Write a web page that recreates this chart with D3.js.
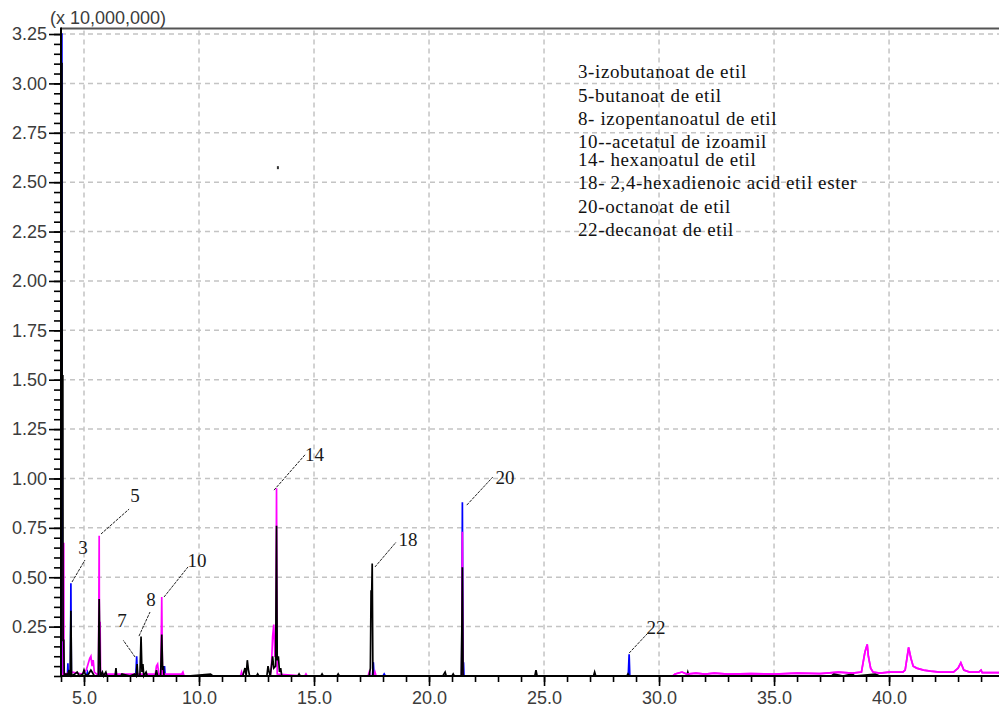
<!DOCTYPE html>
<html><head><meta charset="utf-8">
<script src="https://cdn.jsdelivr.net/npm/d3@7"></script>
<style>
html,body{margin:0;padding:0;background:#fff;}
svg{display:block;}
</style></head>
<body>
<svg id="chart" width="999" height="707"></svg>
<script>
// ---------- DATA ----------
const yMajorTicks = [0.25,0.50,0.75,1.00,1.25,1.50,1.75,2.00,2.25,2.50,2.75,3.00,3.25];
const xMajorTicks = [5,10,15,20,25,30,35,40];
const yScaleNote = "(x 10,000,000)";

// black trace (TIC) [time(min), intensity x1e7]
const blackTrace = [
 [4.00,3.10],[4.04,3.10],[4.05,1.52],[4.08,1.52],[4.09,0.18],[4.12,0.18],[4.14,0.01],
 [4.30,0.01],[4.35,0.03],[4.38,0.00],
 [4.40,0.00],[4.43,0.33],[4.44,0.23],[4.46,0.00],
 [4.60,0.01],[4.70,0.02],[4.80,0.00],[4.95,0.01],[5.00,0.03],[5.05,0.01],[5.15,0.00],[5.25,0.02],[5.30,0.03],[5.35,0.02],[5.45,0.00],
 [5.62,0.00],[5.66,0.39],[5.68,0.22],[5.71,0.00],
 [5.80,0.02],[5.85,0.00],[5.95,0.02],[6.00,0.00],[6.35,0.00],[6.39,0.04],[6.42,0.00],[6.60,0.00],[6.65,0.01],[7.00,0.00],[7.20,0.01],
 [7.27,0.00],[7.31,0.06],[7.34,0.00],
 [7.43,0.00],[7.48,0.20],[7.52,0.02],[7.56,0.06],[7.60,0.00],[7.70,0.02],[7.75,0.00],
 [8.10,0.00],[8.15,0.03],[8.20,0.00],
 [8.33,0.00],[8.38,0.21],[8.42,0.03],[8.45,0.05],[8.48,0.00],
 [9.50,0.00],[10.50,0.01],[10.60,0.00],
 [11.90,0.00],[12.00,0.04],[12.05,0.00],[12.10,0.08],[12.15,0.03],[12.20,0.00],[12.50,0.00],[12.55,0.01],[12.60,0.00],
 [12.95,0.00],[13.00,0.05],[13.05,0.02],[13.10,0.00],[13.20,0.10],[13.25,0.04],
 [13.33,0.05],[13.37,0.76],[13.40,0.08],[13.45,0.10],[13.50,0.02],[13.55,0.04],[13.60,0.00],
 [14.30,0.00],[14.35,0.01],[14.40,0.00],[15.30,0.00],[15.35,0.01],[15.40,0.00],[16.00,0.00],[16.05,0.01],[16.10,0.00],
 [17.40,0.00],[17.45,0.04],[17.48,0.43],[17.51,0.43],[17.53,0.57],[17.56,0.00],
 [20.60,0.00],[20.70,0.02],[20.75,0.00],[21.00,0.00],[21.05,0.01],[21.10,0.00],
 [21.40,0.00],[21.43,0.27],[21.45,0.55],[21.48,0.00],
 [24.60,0.00],[24.65,0.03],[24.70,0.00],[27.15,0.00],[27.20,0.02],[27.25,0.00],
 [28.60,0.00],[28.65,0.01],[28.70,0.00],[31.20,0.00],[31.25,0.02],[31.30,0.00],
 [37.50,0.00],[37.60,0.01],[38.00,0.00],[38.40,0.01],[38.50,0.00],[39.40,0.01],[39.60,0.00],
 [44.78,0.00]
];

// magenta trace
const magentaTrace = [
 [4.00,0.01],[4.09,0.01],[4.10,0.67],[4.12,0.67],[4.13,0.01],
 [4.50,0.02],[4.90,0.01],[5.10,0.03],[5.20,0.07],[5.25,0.09],[5.30,0.10],[5.35,0.05],[5.40,0.08],[5.45,0.02],[5.55,0.01],
 [5.63,0.01],[5.66,0.71],[5.67,0.27],[5.70,0.27],[5.72,0.01],
 [6.00,0.01],[7.20,0.01],
 [8.10,0.01],[8.15,0.05],[8.20,0.06],[8.25,0.01],
 [8.34,0.01],[8.38,0.40],[8.41,0.01],
 [9.25,0.01],[9.30,0.02],[9.35,0.00],[11.80,0.00],[11.85,0.02],[11.90,0.00],
 [13.10,0.00],[13.15,0.05],[13.20,0.20],[13.25,0.26],[13.30,0.10],
 [13.34,0.10],[13.37,0.95],[13.40,0.01],
 [14.60,0.00],[14.65,0.01],[14.70,0.00],[17.35,0.00],[17.40,0.02],[17.45,0.00],[17.60,0.00],[17.65,0.02],[17.70,0.00],
 [21.42,0.00],[21.45,0.73],[21.47,0.00],
 [30.60,0.00],[30.70,0.01],[31.00,0.02],[31.20,0.01],[31.60,0.015],[32.00,0.01],[32.40,0.015],[33.00,0.01],[34.00,0.012],
 [35.00,0.01],[36.00,0.015],[37.00,0.012],[37.80,0.02],[38.40,0.015],[38.80,0.02],
 [38.95,0.12],[39.05,0.16],[39.10,0.10],[39.20,0.04],[39.30,0.02],[39.60,0.015],[40.00,0.02],[40.60,0.02],[40.70,0.03],
 [40.85,0.145],[40.95,0.09],[41.05,0.05],[41.20,0.04],[41.50,0.03],[41.80,0.025],[42.20,0.02],[42.80,0.02],
 [43.00,0.04],[43.12,0.067],[43.25,0.03],[43.50,0.02],[43.90,0.02],[44.00,0.03],[44.05,0.017],[44.78,0.017]
];

// blue trace
const blueTrace = [
 [4.00,0.00],[4.02,3.25],[4.04,3.25],[4.05,0.00],
 [4.28,0.00],[4.30,0.065],[4.32,0.00],
 [4.41,0.00],[4.43,0.47],[4.45,0.00],
 [5.10,0.00],[5.15,0.02],[5.20,0.00],[5.65,0.00],[5.70,0.04],[5.72,0.00],
 [7.25,0.00],[7.29,0.10],[7.32,0.00],
 [8.47,0.00],[8.50,0.05],[8.53,0.00],
 [17.54,0.00],[17.58,0.07],[17.61,0.00],[18.00,0.00],[18.05,0.01],[18.10,0.00],
 [21.42,0.00],[21.45,0.88],[21.48,0.00],[21.50,0.07],[21.52,0.00],
 [28.66,0.00],[28.70,0.11],[28.73,0.00],
 [44.78,0.00]
];

// peak labels: label text, peak point (t,v), leader end (t,v), text centre (t,v)
const peakLabels = ["3","5","7","8","10","14","18","20","22"];
const peakPoints = [[4.48,0.476],[5.74,0.719],[7.22,0.096],[7.39,0.202],[8.48,0.40],[13.26,0.941],[17.65,0.552],[21.64,0.865],[28.70,0.116]];
const leaderEnds = [[5.04,0.587],[6.96,0.845],[6.70,0.182],[7.87,0.324],[9.52,0.552],[14.61,1.120],[18.57,0.678],[22.77,1.007],[29.52,0.218]];
const labelPoints = [[4.96,0.653],[7.22,0.916],[6.65,0.283],[7.91,0.385],[9.91,0.587],[15.02,1.123],[19.09,0.693],[23.30,1.007],[29.87,0.248]];

const legendEntries = [
 "3-izobutanoat de etil",
 "5-butanoat de etil",
 "8- izopentanoatul de etil",
 "10--acetatul de izoamil",
 "14- hexanoatul de etil",
 "18- 2,4-hexadienoic acid etil ester",
 "20-octanoat de etil",
 "22-decanoat de etil"
];
const strayMark = [13.43,2.571];

// ---------- LAYOUT ----------
const W=999,H=707;
const plot={left:61,right:999,top:28.5,bottom:676};
const legendX=578, legendYs=[71,95,118,141,159,182,206,229];

const svg=d3.select("#chart");
const x=d3.scaleLinear().domain([4.0,44.78]).range([plot.left,plot.right]);
const y=d3.scaleLinear().domain([0,3.278]).range([plot.bottom,plot.top]);

// gridlines
const grid=svg.append("g").attr("stroke","#c4c4c4").attr("stroke-width",1.5).attr("stroke-dasharray","5,4").attr("fill","none");
grid.selectAll("line.v").data(xMajorTicks).enter().append("line")
 .attr("x1",d=>x(d)).attr("x2",d=>x(d)).attr("y1",plot.top+2).attr("y2",plot.bottom);
grid.selectAll("line.h").data(yMajorTicks).enter().append("line")
 .attr("x1",plot.left).attr("x2",plot.right).attr("y1",d=>y(d)).attr("y2",d=>y(d));

// traces
const line=d3.line().x(d=>x(d[0])).y(d=>y(d[1]));
const traces=[[blueTrace,"#0000ff"],[magentaTrace,"#ff00ff"],[blackTrace,"#000000"]];
traces.forEach(([data,col])=>{
  svg.append("path").datum(data).attr("d",line).attr("fill","none")
   .attr("stroke",col).attr("stroke-width",1.7).attr("stroke-linejoin","miter");
});
// magenta region at right drawn over black baseline
svg.append("path").datum(magentaTrace.filter(d=>d[0]>=30.6)).attr("d",line).attr("fill","none")
  .attr("stroke","#ff00ff").attr("stroke-width",1.7);

svg.append("rect").attr("x",x(strayMark[0])-1).attr("y",y(strayMark[1])-2).attr("width",2).attr("height",3).attr("fill","#333");

// top border
svg.append("line").attr("x1",plot.left).attr("x2",plot.right).attr("y1",plot.top).attr("y2",plot.top)
 .attr("stroke","#555").attr("stroke-width",2);

// axes
const yMinor=d3.range(0,3.2501,0.05).map(v=>+v.toFixed(2));
const xMinor=d3.range(4,45,1);
const axisFont="'Liberation Sans', Arial, sans-serif";

const gyMinor=svg.append("g").attr("transform",`translate(${plot.left},0)`)
 .call(d3.axisLeft(y).tickValues(yMinor).tickSize(7).tickFormat(""));
const gy=svg.append("g").attr("transform",`translate(${plot.left},0)`)
 .call(d3.axisLeft(y).tickValues(yMajorTicks).tickSize(12).tickPadding(2).tickFormat(d3.format(".2f")));
const gxMinor=svg.append("g").attr("transform",`translate(0,${plot.bottom})`)
 .call(d3.axisBottom(x).tickValues(xMinor).tickSize(6).tickFormat(""));
const gx=svg.append("g").attr("transform",`translate(0,${plot.bottom})`)
 .call(d3.axisBottom(x).tickValues(xMajorTicks).tickSize(10).tickPadding(6).tickFormat(d3.format(".1f")));
[gyMinor,gy,gxMinor,gx].forEach(g=>{
  g.selectAll(".domain").remove();
  g.selectAll(".tick line").attr("stroke","#000").attr("stroke-width",1.6);
  g.selectAll("text").attr("font-family",axisFont).attr("font-size",18).attr("fill","#3c3c3c");
});
gx.selectAll("text").attr("dy","0.68em");

svg.append("line").attr("x1",plot.left).attr("x2",plot.left).attr("y1",plot.top-1).attr("y2",plot.bottom+1)
 .attr("stroke","#000").attr("stroke-width",2);
svg.append("line").attr("x1",plot.left-1).attr("x2",plot.right).attr("y1",plot.bottom).attr("y2",plot.bottom)
 .attr("stroke","#000").attr("stroke-width",2);

svg.append("text").attr("x",50).attr("y",24).attr("font-family",axisFont).attr("font-size",18)
 .attr("fill","#3c3c3c").text(yScaleNote);

// peak labels
const serif="'Liberation Serif','Times New Roman',serif";
const lbl=svg.append("g");
peakLabels.forEach((t,i)=>{
  lbl.append("line").attr("x1",x(peakPoints[i][0])).attr("y1",y(peakPoints[i][1]))
    .attr("x2",x(leaderEnds[i][0])).attr("y2",y(leaderEnds[i][1]))
    .attr("stroke","#222").attr("stroke-width",1).attr("stroke-dasharray","3,1");
  lbl.append("text").attr("x",x(labelPoints[i][0])).attr("y",y(labelPoints[i][1]))
    .attr("text-anchor","middle").attr("dominant-baseline","central")
    .attr("font-family",serif).attr("font-size",19).attr("fill","#1a1a1a").text(t);
});

// legend text
svg.append("g").selectAll("text").data(legendEntries).enter().append("text")
 .attr("x",legendX).attr("y",(d,i)=>legendYs[i]).attr("dominant-baseline","central")
 .attr("font-family",serif).attr("font-size",19).attr("letter-spacing","0.6px").attr("fill","#111").text(d=>d);
</script>
</body></html>
